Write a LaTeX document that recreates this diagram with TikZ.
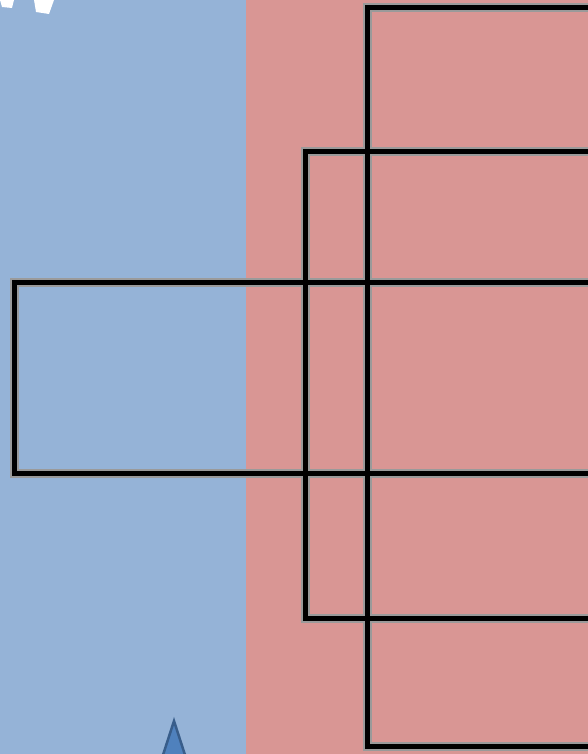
\documentclass[tikz,border=0pt]{standalone}
\definecolor{bgblue}{HTML}{95B3D7}
\definecolor{bgpink}{HTML}{D99694}
\definecolor{halo}{HTML}{9A9A9A}
\definecolor{arrowfill}{HTML}{4F81BD}
\definecolor{arrowline}{HTML}{385D8A}
\begin{document}
\begin{tikzpicture}[x=1pt,y=-1pt,
  halo line/.style={draw=halo,line width=9pt},
  box line/.style={draw=black,line width=5pt}]
\useasboundingbox (0,0) rectangle (588,754);
\fill[bgblue] (0,0) rectangle (246,754);
\fill[bgpink] (246,0) rectangle (588,754);
% white marks top-left
\fill[white] (0,0) -- (14,0) -- (12,8) -- (2,7) -- cycle;
\fill[white] (34,0) -- (54,0) -- (49,14) -- (36,12) -- cycle;
% arrow tip at bottom
\fill[arrowfill,draw=arrowline,line width=2.5pt] (174,721) -- (186,758) -- (162,758) -- cycle;
% boxes
\coordinate (a1) at (367,8);
\coordinate (a2) at (367,746);
\coordinate (b1) at (305,152);
\coordinate (b2) at (305,618);
\coordinate (c1) at (14,282);
\coordinate (c2) at (14,473);
\foreach \s in {halo line,box line}{
  \draw[\s] (594,8) -| (a2) -- (594,746);
  \draw[\s] (594,152) -| (b2) -- (594,618);
  \draw[\s] (594,282) -| (c2) -- (594,473);
}
\end{tikzpicture}
\end{document}
